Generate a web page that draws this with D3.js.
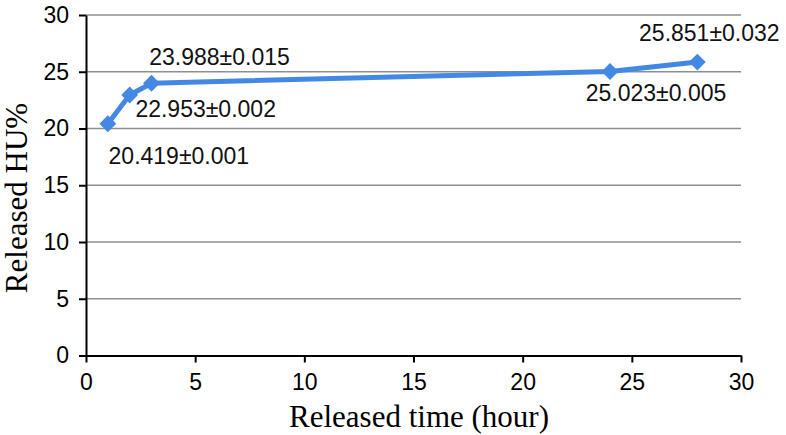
<!DOCTYPE html>
<html>
<head>
<meta charset="utf-8">
<script src="https://cdn.jsdelivr.net/npm/d3@7"></script>
<style>
  body { margin: 0; background: #fff; }
  .pt_label { font-family: "Liberation Sans", Arial, sans-serif; font-size: 23px; fill: #111; }
  .ax_title { font-family: "Liberation Serif", "Times New Roman", serif; font-size: 31px; fill: #000; }
</style>
</head>
<body>
<div id="vis"></div>
<script>
var hours = [1, 2, 3, 24, 28];
var released = [20.419, 22.953, 23.988, 25.023, 25.851];
var labels = ["20.419±0.001", "22.953±0.002", "23.988±0.015", "25.023±0.005", "25.851±0.032"];
var x_ticks = [0, 5, 10, 15, 20, 25, 30];
var y_ticks = [0, 5, 10, 15, 20, 25, 30];

var width = 786, height = 435;
var scales = {
  time: d3.scaleLinear().domain([0, 30]).range([86, 741]),
  pct: d3.scaleLinear().domain([0, 30]).range([355.5, 15])
};

var svg = d3.select("#vis").append("svg")
  .attr("width", width)
  .attr("height", height);

// grid lines
svg.selectAll(".grid")
  .data(y_ticks.filter(function(d) { return d > 0; }))
  .enter()
  .append("line")
  .attr("class", "grid")
  .attr("x1", scales.time(0))
  .attr("x2", scales.time(30))
  .attr("y1", function(d) { return scales.pct(d); })
  .attr("y2", function(d) { return scales.pct(d); })
  .attr("stroke", "#8c9090")
  .attr("stroke-width", 1.5);

var x_axis = d3.axisBottom(scales.time)
  .tickValues(x_ticks)
  .tickSize(7)
  .tickPadding(11)
  .tickSizeOuter(0);
svg.append("g")
  .attr("class", "x_axis")
  .attr("transform", "translate(0," + scales.pct(0) + ")")
  .call(x_axis);

var y_axis = d3.axisLeft(scales.pct)
  .tickValues(y_ticks)
  .tickSize(7)
  .tickPadding(10)
  .tickSizeOuter(0);
svg.append("g")
  .attr("class", "y_axis")
  .attr("transform", "translate(" + scales.time(0) + ",0)")
  .call(y_axis);

svg.selectAll(".x_axis, .y_axis")
  .attr("font-size", 23)
  .attr("font-family", "Liberation Sans, Arial, sans-serif");
svg.selectAll(".x_axis text, .y_axis text")
  .style("font-size", "23px")
  .attr("fill", "#000");

svg.selectAll(".x_axis path, .y_axis path, .x_axis line, .y_axis line")
  .attr("stroke", "#000")
  .attr("stroke-width", 2);

var pts = hours.map(function(h, i) { return { h: h, v: released[i], lab: labels[i] }; });

var line = d3.line()
  .x(function(d) { return scales.time(d.h); })
  .y(function(d) { return scales.pct(d.v); });

svg.append("path")
  .datum(pts)
  .attr("d", line)
  .attr("fill", "none")
  .attr("stroke", "#4389e3")
  .attr("stroke-width", 5)
  .attr("stroke-linejoin", "round");

svg.selectAll(".marker")
  .data(pts)
  .enter()
  .append("path")
  .attr("class", "marker")
  .attr("d", d3.symbol().type(d3.symbolDiamond2).size(180))
  .attr("transform", function(d) { return "translate(" + scales.time(d.h) + "," + scales.pct(d.v) + ")"; })
  .attr("fill", "#4389e3");

// value labels, offset from their points
var offsets = [
  { dx: 71, dy: 40 },
  { dx: 76, dy: 22 },
  { dx: 68, dy: -18 },
  { dx: 46, dy: 30 },
  { dx: 12, dy: -21 }
];
svg.selectAll(".pt_label")
  .data(pts)
  .enter()
  .append("text")
  .attr("class", "pt_label")
  .attr("text-anchor", "middle")
  .attr("x", function(d, i) { return scales.time(d.h) + offsets[i].dx; })
  .attr("y", function(d, i) { return scales.pct(d.v) + offsets[i].dy; })
  .text(function(d) { return d.lab; });

svg.append("text")
  .attr("class", "ax_title")
  .attr("text-anchor", "middle")
  .attr("x", 419)
  .attr("y", 427)
  .text("Released time (hour)");

svg.append("text")
  .attr("class", "ax_title")
  .attr("text-anchor", "middle")
  .attr("transform", "translate(27,198)rotate(-90)")
  .text("Released HU%");
</script>
</body>
</html>
